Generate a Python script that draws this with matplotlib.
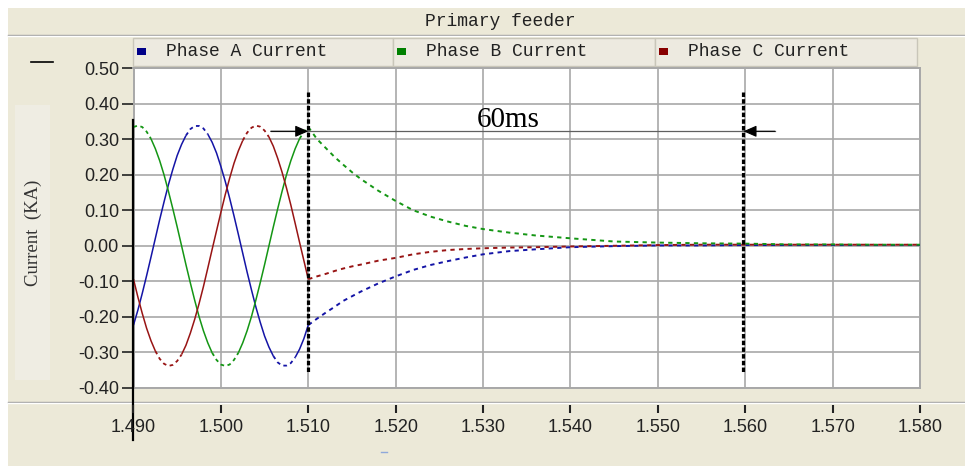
import numpy as np
import matplotlib
matplotlib.use("Agg")
import matplotlib.pyplot as plt
from matplotlib.patches import Rectangle

# ---------------- data ----------------
title = "Primary feeder"
ylabel = "Current  (KA)"
series_names = ["Phase A Current", "Phase B Current", "Phase C Current"]
interval_text = "60ms"

t_pre = [1.4900, 1.4905, 1.4910, 1.4915, 1.4920, 1.4925, 1.4930, 1.4935, 1.4940, 1.4945,
         1.4950, 1.4955, 1.4960, 1.4965, 1.4970, 1.4975, 1.4980, 1.4985, 1.4990, 1.4995,
         1.5000, 1.5005, 1.5010, 1.5015, 1.5020, 1.5025, 1.5030, 1.5035, 1.5040, 1.5045,
         1.5050, 1.5055, 1.5060, 1.5065, 1.5070, 1.5075, 1.5080, 1.5085, 1.5090, 1.5095,
         1.5100]
phase_a_pre = [-0.223, -0.181, -0.134, -0.084, -0.032, 0.021, 0.074, 0.124, 0.172, 0.215,
               0.254, 0.285, 0.310, 0.328, 0.337, 0.337, 0.330, 0.314, 0.291, 0.261,
               0.223, 0.181, 0.134, 0.084, 0.032, -0.021, -0.074, -0.124, -0.172, -0.215,
               -0.254, -0.285, -0.310, -0.328, -0.337, -0.337, -0.330, -0.314, -0.291, -0.261,
               -0.223]
phase_b_pre = [0.334, 0.338, 0.334, 0.321, 0.301, 0.273, 0.239, 0.199, 0.153, 0.104,
               0.053, 0.000, -0.053, -0.104, -0.153, -0.199, -0.239, -0.273, -0.301, -0.321,
               -0.334, -0.338, -0.334, -0.321, -0.301, -0.273, -0.239, -0.199, -0.153, -0.104,
               -0.053, 0.000, 0.053, 0.104, 0.153, 0.199, 0.239, 0.273, 0.301, 0.321,
               0.334]
phase_c_pre = [-0.094, -0.144, -0.190, -0.232, -0.267, -0.296, -0.318, -0.332, -0.338, -0.335,
               -0.324, -0.306, -0.280, -0.246, -0.207, -0.163, -0.115, -0.063, -0.010, 0.042,
               0.094, 0.144, 0.190, 0.232, 0.267, 0.296, 0.318, 0.332, 0.338, 0.335,
               0.324, 0.306, 0.280, 0.246, 0.207, 0.163, 0.115, 0.063, 0.010, -0.042,
               -0.094]

t_post = [1.510, 1.511, 1.512, 1.513, 1.514, 1.515, 1.516, 1.518, 1.520, 1.522,
          1.524, 1.526, 1.528, 1.530, 1.533, 1.536, 1.540, 1.545, 1.550, 1.555,
          1.560, 1.565, 1.570, 1.575, 1.580]
phase_a_post = [-0.223, -0.205, -0.188, -0.172, -0.155, -0.142, -0.129, -0.106, -0.086, -0.068,
                -0.054, -0.043, -0.033, -0.024, -0.015, -0.010, -0.004, -0.001, 0.001, 0.001,
                0.002, 0.002, 0.002, 0.002, 0.002]
phase_b_post = [0.334, 0.300, 0.275, 0.250, 0.228, 0.207, 0.188, 0.155, 0.126, 0.100,
                0.082, 0.068, 0.056, 0.047, 0.037, 0.029, 0.021, 0.012, 0.009, 0.007,
                0.006, 0.004, 0.004, 0.003, 0.003]
phase_c_post = [-0.094, -0.086, -0.079, -0.071, -0.064, -0.058, -0.053, -0.042, -0.034, -0.024,
                -0.017, -0.012, -0.009, -0.007, -0.005, -0.004, -0.002, 0.000, 0.002, 0.003,
                0.003, 0.003, 0.003, 0.003, 0.003]

xticks = [1.490, 1.500, 1.510, 1.520, 1.530, 1.540, 1.550, 1.560, 1.570, 1.580]
xtick_labels = ["1.490", "1.500", "1.510", "1.520", "1.530", "1.540", "1.550", "1.560", "1.570", "1.580"]
yticks = [0.50, 0.40, 0.30, 0.20, 0.10, 0.00, -0.10, -0.20, -0.30, -0.40]
ytick_labels = ["0.50", "0.40", "0.30", "0.20", "0.10", "0.00", "-0.10", "-0.20", "-0.30", "-0.40"]

fault_clear_time = 1.510
settle_time = 1.5598
interval_level = 0.322

# ---------------- style ----------------
W, H = 965, 466
BEIGE = "#ECE9D8"
GRID = "#A8A8A8"
line_colors = ["#1414a6", "#149614", "#981414"]
legend_colors = ["#000088", "#008000", "#880000"]
MONO = "Liberation Mono"
SANS = "Liberation Sans"
SERIF = "Liberation Serif"


def fx(px):
    return px / W


def fy(py):
    return 1 - py / H


fig = plt.figure(figsize=(W / 100, H / 100), dpi=100, facecolor="white")

# beige panel
fig.patches.append(Rectangle((fx(8), 0), 1 - fx(8), fy(8), transform=fig.transFigure,
                             facecolor=BEIGE, edgecolor="none", zorder=-3))
# lighter area behind y label
fig.patches.append(Rectangle((fx(15), fy(380)), fx(50) - fx(15), fy(105) - fy(380),
                             transform=fig.transFigure, facecolor="#EFEDE3",
                             edgecolor="none", zorder=-2))

# header separator line
fig.add_artist(plt.Line2D([fx(8), 1], [fy(35), fy(35)], color="#A0A0A0", lw=1.0, zorder=-1))
fig.add_artist(plt.Line2D([fx(8), 1], [fy(36.3), fy(36.3)], color="white", lw=1.0, zorder=-1))
# lower separator line
fig.add_artist(plt.Line2D([fx(8), 1], [fy(402), fy(402)], color="#A0A0A0", lw=1.0, zorder=-1))
fig.add_artist(plt.Line2D([fx(8), 1], [fy(403.3), fy(403.3)], color="white", lw=1.0, zorder=-1))

fig.text(fx(500), fy(21), title, family=MONO, fontsize=13, color="#222222",
         ha="center", va="center")

# legend boxes
boxes = [(133, 393), (393, 655), (655, 917)]
for (x0, x1), name, col in zip(boxes, series_names, legend_colors):
    fig.patches.append(Rectangle((fx(x0), fy(66)), fx(x1) - fx(x0), fy(38) - fy(66),
                                 transform=fig.transFigure, facecolor="#EDEAE0",
                                 edgecolor="#C9C6B9", lw=1.0, zorder=-1))
    fig.patches.append(Rectangle((fx(x0 + 4), fy(55)), fx(9), fy(48) - fy(55),
                                 transform=fig.transFigure, facecolor=col,
                                 edgecolor="none", zorder=-0.5))
    fig.text(fx(x0 + 33), fy(52), name, family=MONO, fontsize=13, color="#222222",
             ha="left", va="center")

# small marks
fig.add_artist(plt.Line2D([fx(31), fx(53)], [fy(62), fy(62)], color="black", lw=1.2))
fig.add_artist(plt.Line2D([fx(381), fx(387)], [fy(452), fy(452)], color="#8FA8DA", lw=1.0))

# y label
fig.text(fx(33), fy(233), ylabel, family=SERIF, fontsize=13.5, color="#333333",
         rotation=90, ha="center", va="center")

# ---------------- axes ----------------
ax_left, ax_right = fx(133.5), fx(920)
ax = fig.add_axes([ax_left, fy(388), ax_right - ax_left, fy(68) - fy(388)])
ax.set_zorder(1)
ax.set_facecolor("white")
ax.set_xlim(xticks[0], xticks[-1])
ax.set_ylim(yticks[-1], yticks[0])

ax.set_xticks(xticks)
ax.tick_params(axis="x", bottom=False, labelbottom=False)
ax.set_yticks(yticks)
ax.set_yticklabels(ytick_labels, family=SANS, fontsize=13, color="#222222")
ax.grid(True, color=GRID, lw=1.2)
ax.set_axisbelow(True)
for s in ax.spines.values():
    s.set_color(GRID)
    s.set_linewidth(1.4)
ax.tick_params(axis="y", direction="out", length=9, width=1.2, color="#222222", pad=1.5)

# separate strip carrying the time ticks below the separator line
axx = fig.add_axes([ax_left, fy(405), ax_right - ax_left, 0.0001])
axx.set_zorder(1)
axx.patch.set_visible(False)
for s in axx.spines.values():
    s.set_visible(False)
axx.set_xlim(xticks[0], xticks[-1])
axx.set_yticks([])
axx.set_xticks(xticks)
axx.set_xticklabels(xtick_labels, family=SANS, fontsize=13, color="#222222")
axx.tick_params(axis="x", direction="out", length=6, width=1.5, color="#222222", pad=4)


def draw_phase(t, v, color):
    t = np.asarray(t)
    v = np.asarray(v, dtype=float)
    hi = np.abs(v) >= 0.318
    ext = hi.copy()
    ext[1:] |= hi[:-1]
    ext[:-1] |= hi[1:]
    solid = np.where(~hi, v, np.nan)
    dotted = np.where(ext, v, np.nan)
    ax.plot(t, solid, color=color, lw=1.1, zorder=3, solid_capstyle="butt")
    ax.plot(t, dotted, color=color, lw=1.3, ls=(0, (2.0, 2.0)), zorder=3)


pre = [phase_a_pre, phase_b_pre, phase_c_pre]
post = [phase_a_post, phase_b_post, phase_c_post]
for vals_pre, vals_post, col in zip(pre, post, line_colors):
    draw_phase(t_pre, vals_pre, col)
    ax.plot(t_post, vals_post, color=col, lw=1.4, ls=(0, (2.2, 2.2)), zorder=3)

# cursor lines
ax.plot([xticks[0], xticks[0]], [0.354, -0.545], color="black", lw=1.6,
        clip_on=False, zorder=6)
for tm in (fault_clear_time, settle_time):
    ax.plot([tm, tm], [0.432, -0.354], color="black", lw=2.3, ls=(0, (1.4, 0.7)),
            zorder=6, clip_on=False)

# 60 ms interval marker
ax.plot([1.5057, 1.5634], [interval_level, interval_level], color="#606060", lw=0.9, zorder=5)
ax.annotate("", xy=(fault_clear_time, interval_level), xytext=(1.5057, interval_level),
            arrowprops=dict(arrowstyle="-|>,head_length=0.8,head_width=0.35", color="black",
                            lw=0.8, shrinkA=0, shrinkB=0, mutation_scale=10), zorder=7)
ax.annotate("", xy=(settle_time, interval_level), xytext=(1.5634, interval_level),
            arrowprops=dict(arrowstyle="-|>,head_length=0.8,head_width=0.35", color="black",
                            lw=0.8, shrinkA=0, shrinkB=0, mutation_scale=10), zorder=7)
ax.text(1.5329, interval_level + 0.012, interval_text, family=SERIF, fontsize=21,
        color="black", ha="center", va="baseline", zorder=7)

fig.savefig("out.png", dpi=100, facecolor=fig.get_facecolor())
